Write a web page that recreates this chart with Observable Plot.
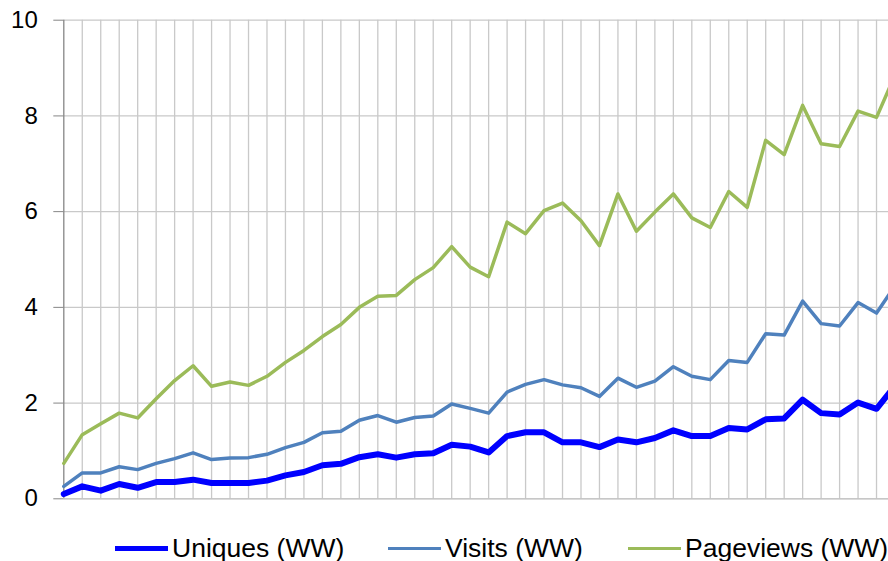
<!DOCTYPE html>
<html>
<head>
<meta charset="utf-8">
<script src="https://cdn.jsdelivr.net/npm/d3@7"></script>
<script src="https://cdn.jsdelivr.net/npm/@observablehq/plot@0.6"></script>
<style>
  html, body { margin: 0; padding: 0; background: #fff; overflow: hidden; width: 888px; height: 561px; }
  #wrap { position: relative; width: 888px; height: 561px; overflow: hidden; font-family: "Liberation Sans", Arial, sans-serif; }
  #chart { width: 900px; }
  #chart svg { display: block; max-width: none !important; }
  .lg { position: absolute; top: 535px; font-size: 26.5px; line-height: 26px; color: #000; white-space: nowrap; }
  .sw { position: absolute; }
</style>
</head>
<body>
<div id="wrap">
  <div id="chart"></div>
  <div id="legend"></div>
</div>
<script>
// Series values (one value per period)
const uniques = [0.10,0.26,0.17,0.31,0.23,0.35,0.35,0.40,0.33,0.33,0.33,0.38,0.49,0.56,0.70,0.73,0.87,0.93,0.86,0.93,0.95,1.13,1.09,0.97,1.31,1.39,1.39,1.18,1.18,1.08,1.24,1.18,1.27,1.43,1.31,1.31,1.48,1.45,1.66,1.68,2.07,1.79,1.76,2.01,1.88,2.36];
const visits = [0.26,0.54,0.54,0.67,0.61,0.74,0.84,0.96,0.82,0.85,0.86,0.93,1.07,1.18,1.38,1.41,1.64,1.74,1.60,1.70,1.73,1.98,1.89,1.79,2.23,2.39,2.49,2.38,2.32,2.14,2.52,2.33,2.46,2.76,2.56,2.49,2.89,2.85,3.45,3.42,4.13,3.66,3.61,4.10,3.88,4.45];
const pageviews = [0.74,1.34,1.57,1.79,1.69,2.09,2.47,2.78,2.35,2.44,2.37,2.56,2.85,3.10,3.39,3.64,4.00,4.23,4.25,4.58,4.83,5.27,4.84,4.64,5.78,5.54,6.02,6.18,5.81,5.29,6.37,5.59,5.99,6.37,5.87,5.67,6.42,6.09,7.49,7.19,8.22,7.42,7.36,8.10,7.97,8.85];
const periods = d3.range(uniques.length);
const yTicks = [0, 2, 4, 6, 8, 10];
const seriesNames = ["Uniques (WW)", "Visits (WW)", "Pageviews (WW)"];
const seriesColors = ["#0000ff", "#4f81bd", "#9bbb59"];
const seriesWidths = [6, 3.5, 3.5];

const seriesValues = [uniques, visits, pageviews];
const rows = (vals) => periods.map(i => ({i, v: vals[i]}));

const chart = Plot.plot({
  width: 900,
  height: 512,
  marginLeft: 63.3,
  marginRight: 5.5,
  marginTop: 19.7,
  marginBottom: 13.7,
  style: { fontFamily: "Liberation Sans, Arial, sans-serif", background: "transparent", overflow: "visible", maxWidth: "none" },
  x: { domain: [0, periods.length - 1], axis: null },
  y: { domain: [0, 10] },
  marks: [
    Plot.ruleX(periods.slice(1), { stroke: "#c9c9c9", strokeWidth: 1.3 }),
    Plot.ruleY(yTicks.slice(1), { stroke: "#c9c9c9", strokeWidth: 1.3 }),
    Plot.ruleY([0], { stroke: "#b5b5b5", strokeWidth: 1.3 }),
    Plot.ruleX([0], { stroke: "#868686", strokeWidth: 1.3 }),
    Plot.axisY({ ticks: yTicks, tickSize: 10, tickPadding: 16, fontSize: 24, stroke: "#868686", color: "#000", label: null }),
    ...seriesValues.map((vals, k) => Plot.lineY(rows(vals), {
      x: "i", y: "v", stroke: seriesColors[k], strokeWidth: seriesWidths[k], strokeLinejoin: "round"
    })).reverse()
  ]
});
chart.querySelectorAll('[aria-label="y-axis tick label"] text').forEach(t => t.setAttribute("fill", "#000"));
document.getElementById("chart").appendChild(chart);

// Legend
const legend = document.getElementById("legend");
const swX = [115, 388, 628];
seriesNames.forEach((name, k) => {
  const sw = document.createElement("div");
  sw.className = "sw";
  const h = seriesWidths[k] === 6 ? 5 : 3.5;
  sw.style.left = swX[k] + "px";
  sw.style.width = "53px";
  sw.style.top = (548.5 - h / 2) + "px";
  sw.style.height = h + "px";
  sw.style.background = seriesColors[k];
  legend.appendChild(sw);
  const t = document.createElement("div");
  t.className = "lg";
  t.style.left = (swX[k] + 57) + "px";
  t.textContent = name;
  legend.appendChild(t);
});
</script>
</body>
</html>
